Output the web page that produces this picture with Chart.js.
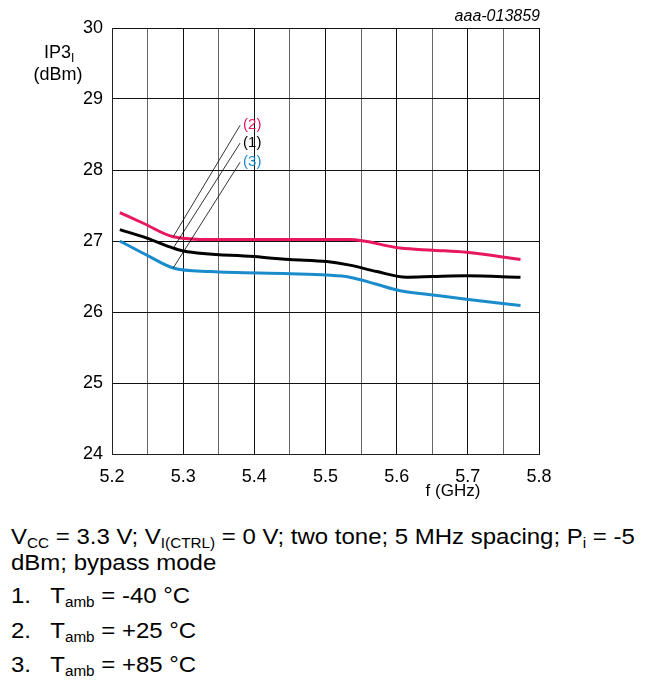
<!DOCTYPE html>
<html>
<head>
<meta charset="utf-8">
<script src="https://cdn.jsdelivr.net/npm/chart.js@4.4.1/dist/chart.umd.min.js"></script>
<style>
  body { margin: 0; background: #fff; font-family: "Liberation Sans", Arial, sans-serif; }
  #wrap { position: relative; width: 659px; height: 681px; overflow: hidden; }
  #c { position: absolute; left: 0; top: 0; }
  .cap { position: absolute; left: 11px; font-size: 22px; color: #000; white-space: nowrap; line-height: 20px;
         transform: scaleX(1.09); transform-origin: 0 0; }
  .cap sub { font-size: 14px; vertical-align: -4px; line-height: 0; }
  .num { display: inline-block; width: 36px; }
</style>
</head>
<body>
<div id="wrap">
  <canvas id="c" width="659" height="512"></canvas>
  <div class="cap" style="top:527px">V<sub>CC</sub> = 3.3 V; V<sub>I(CTRL)</sub> = 0 V; two tone; 5 MHz spacing; P<sub>i</sub> = -5</div>
  <div class="cap" style="top:553px">dBm; bypass mode</div>
  <div class="cap" style="top:586px"><span class="num">1.</span>T<sub>amb</sub> = -40 °C</div>
  <div class="cap" style="top:621px"><span class="num">2.</span>T<sub>amb</sub> = +25 °C</div>
  <div class="cap" style="top:655px"><span class="num">3.</span>T<sub>amb</sub> = +85 °C</div>
</div>
<script>
// frequency (GHz) and IP3 (dBm)
const freq1 = [5.211, 5.249, 5.286, 5.300, 5.399, 5.450, 5.502, 5.534, 5.572, 5.614, 5.651, 5.698, 5.774];
const ip3_1 = [27.16, 27.04, 26.90, 26.86, 26.78, 26.74, 26.71, 26.66, 26.57, 26.49, 26.50, 26.51, 26.49];

const freq2 = [5.211, 5.244, 5.286, 5.340, 5.450, 5.534, 5.605, 5.651, 5.698, 5.774];
const ip3_2 = [27.40, 27.25, 27.06, 27.02, 27.02, 27.02, 26.90, 26.87, 26.84, 26.74];

const freq3 = [5.211, 5.249, 5.286, 5.338, 5.450, 5.502, 5.534, 5.572, 5.605, 5.651, 5.698, 5.774];
const ip3_3 = [27.00, 26.80, 26.62, 26.57, 26.54, 26.52, 26.49, 26.39, 26.30, 26.24, 26.18, 26.09];

// leader lines from curve labels to curves
const leaderX = [5.286, 5.380];
const leader2 = [27.06, 28.63];
const leader1 = [26.90, 28.38];
const leader3 = [26.62, 28.11];
const labelNames = ['(2)', '(1)', '(3)'];
const labelY = [28.63, 28.38, 28.11];

const xTicks = [5.2, 5.3, 5.4, 5.5, 5.6, 5.7, 5.8];
const xGrid = [5.2, 5.25, 5.3, 5.35, 5.4, 5.45, 5.5, 5.55, 5.6, 5.65, 5.7, 5.75, 5.8];

const RED = '#e8185c', BLACK = '#000000', BLUE = '#1a8ccc';
const labelColors = [RED, BLACK, BLUE];
const FONT = '"Liberation Sans", Arial, sans-serif';

const pts = (xs, ys) => xs.map((x, i) => ({x: x, y: ys[i]}));

const curve = (xs, ys, color) => ({
    data: pts(xs, ys),
    borderColor: color,
    borderWidth: 3,
    pointRadius: 0,
    cubicInterpolationMode: 'monotone',
    fill: false
});
const leader = (ys) => ({
    data: pts(leaderX, ys),
    borderColor: '#000',
    borderWidth: 0.8,
    pointRadius: 0,
    tension: 0,
    fill: false
});

const textPlugin = {
    id: 'texts',
    afterDraw(chart) {
        const ctx = chart.ctx;
        const xs = chart.scales.x, ys = chart.scales.y;
        ctx.save();
        ctx.fillStyle = '#000';
        ctx.textBaseline = 'alphabetic';
        // y title
        ctx.font = '18px ' + FONT;
        ctx.textAlign = 'left';
        ctx.fillText('IP3', 44, 58);
        ctx.font = '12px ' + FONT;
        ctx.fillText('I', 71, 62);
        ctx.font = '18px ' + FONT;
        ctx.textAlign = 'center';
        ctx.fillText('(dBm)', 58, 80);
        // x title
        ctx.font = '17px ' + FONT;
        ctx.fillText('f (GHz)', 453, 496);
        // figure id
        ctx.font = 'italic 16px ' + FONT;
        ctx.textAlign = 'right';
        ctx.fillText('aaa-013859', 540, 21);
        // curve labels
        ctx.font = '15px ' + FONT;
        ctx.textAlign = 'left';
        ctx.textBaseline = 'middle';
        labelNames.forEach((n, i) => {
            ctx.fillStyle = labelColors[i];
            ctx.fillText(n, xs.getPixelForValue(leaderX[1]) + 3, ys.getPixelForValue(labelY[i]));
        });
        ctx.restore();
    }
};

new Chart(document.getElementById('c').getContext('2d'), {
    type: 'line',
    data: {
        datasets: [
            leader(leader2), leader(leader1), leader(leader3),
            curve(freq2, ip3_2, RED),
            curve(freq1, ip3_1, BLACK),
            curve(freq3, ip3_3, BLUE)
        ]
    },
    options: {
        responsive: false,
        animation: false,
        layout: {padding: {left: 0, right: 120, top: 28, bottom: 0}},
        plugins: {legend: {display: false}, tooltip: {enabled: false}},
        scales: {
            x: {
                type: 'linear',
                min: 5.2, max: 5.8,
                afterBuildTicks: (s) => { s.ticks = xGrid.map(v => ({value: v})); },
                afterFit: (s) => { s.height = 512 - 454; },
                ticks: {
                    color: '#000', padding: 12,
                    font: {family: FONT, size: 18},
                    maxRotation: 0, autoSkip: false,
                    callback: (v) => { const m = xTicks.find(t => Math.abs(t - v) < 1e-6); return m === undefined ? '' : m.toFixed(1); }
                },
                grid: {
                    drawTicks: false,
                    color: (c) => xTicks.some(t => Math.abs(t - c.tick.value) < 1e-6) ? '#111' : '#666',
                    lineWidth: 1
                },
                border: {color: '#222', width: 1}
            },
            y: {
                min: 24, max: 30,
                afterFit: (s) => { s.width = 112; },
                ticks: {
                    stepSize: 1, color: '#000', padding: 9,
                    font: {family: FONT, size: 18}
                },
                grid: {drawTicks: false, color: '#111', lineWidth: 1},
                border: {color: '#222', width: 1}
            }
        }
    },
    plugins: [textPlugin]
});
</script>
</body>
</html>
